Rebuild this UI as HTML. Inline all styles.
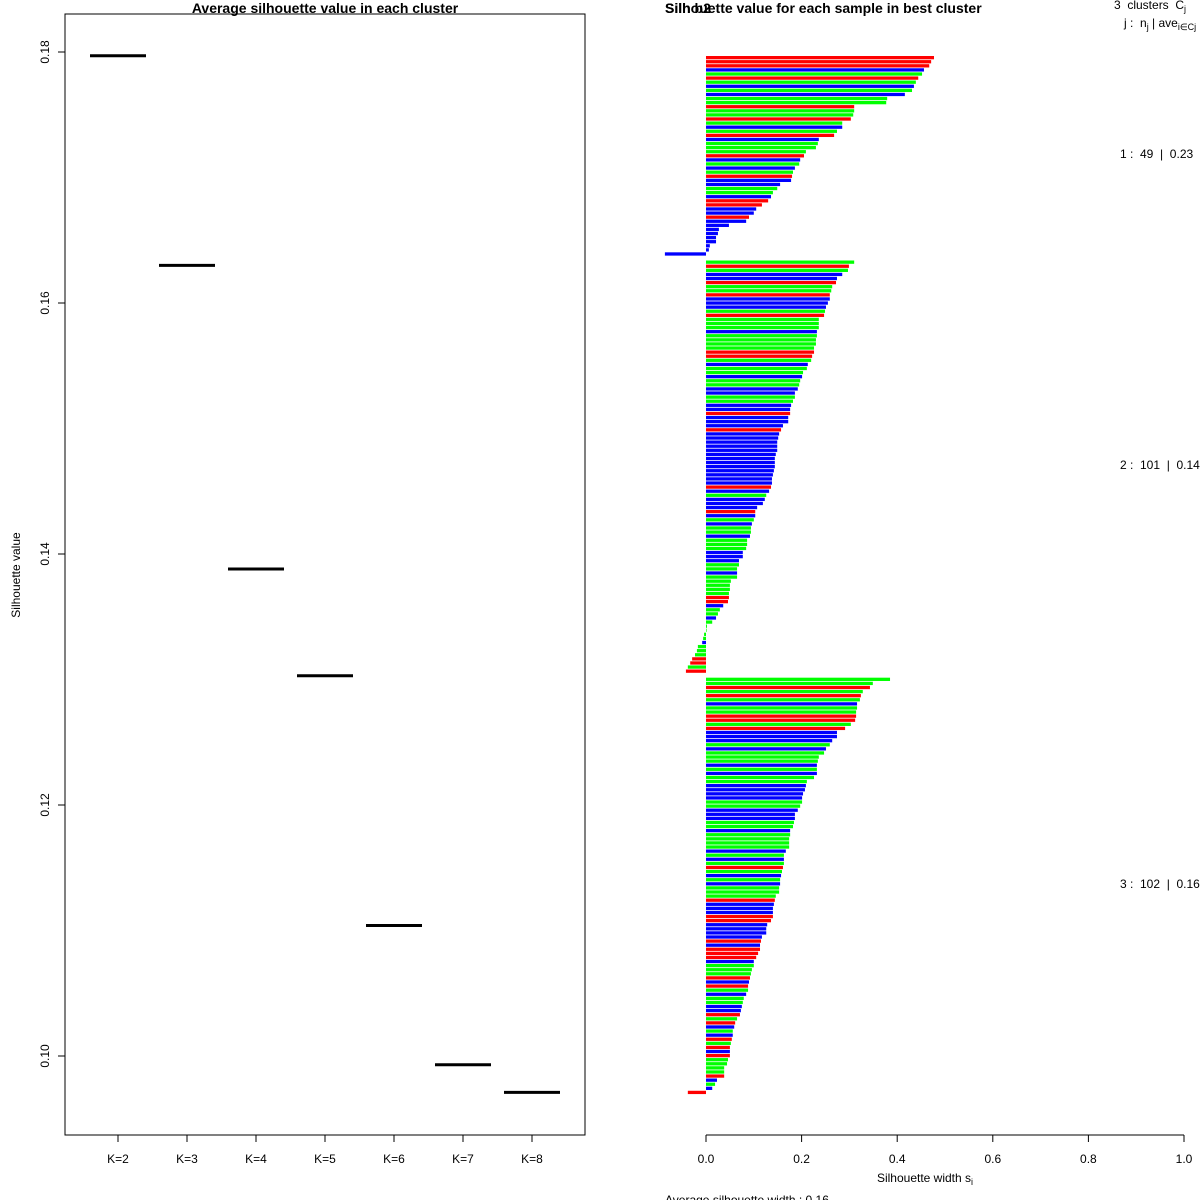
<!DOCTYPE html>
<html><head><meta charset="utf-8"><style>
html,body{margin:0;padding:0;background:#fff;}
svg{display:block;font-family:"Liberation Sans",Arial,sans-serif;}
text{white-space:pre;}
</style></head><body>
<svg id="chart" width="1200" height="1200" viewBox="0 0 1200 1200">
<rect x="0" y="0" width="1200" height="1200" fill="#fff"/>
<g id="left">
<text x="325" y="13" font-size="14" font-weight="bold" text-anchor="middle">Average silhouette value in each cluster</text>
<rect x="65" y="14" width="520" height="1121" fill="none" stroke="#000" stroke-width="1"/>
<text transform="translate(20,575) rotate(-90)" font-size="12" text-anchor="middle">Silhouette value</text>
<g id="lyticks"></g>
<g id="lxticks"></g>
<g id="lmarks"></g>
</g>
<g id="right">
<text x="665" y="13" font-size="14" font-weight="bold">Silh b2</text>
<text x="665" y="13" font-size="14" font-weight="bold">Silhouette value for each sample in best cluster</text>
<text x="1114" y="9" font-size="12">3  clusters  C<tspan font-size="9" dy="3">j</tspan></text>
<text x="1124" y="27" font-size="12">j :  n<tspan font-size="9" dy="3">j</tspan><tspan dy="-3"> | ave</tspan><tspan font-size="9" dy="3">i∈Cj</tspan><tspan dy="-3">  s</tspan></text>
<g id="rbars"></g>
<g id="rxaxis"></g>
<g id="rlabels"></g>
<text x="925" y="1182" font-size="12" text-anchor="middle">Silhouette width s<tspan font-size="9" dy="3">i</tspan></text>
<text x="665" y="1204" font-size="12">Average silhouette width : 0.16</text>
</g>
</svg>
<script>
const kLabels = ["K=2","K=3","K=4","K=5","K=6","K=7","K=8"];
const kValues = [0.1797,0.1630,0.1388,0.1303,0.1104,0.0993,0.0971];
const yTicks = [0.10,0.12,0.14,0.16,0.18];
const xTicksR = [0,0.2,0.4,0.6,0.8,1.0];
const clusterSizes = [49,101,102];
const clusterAvg = ["0.23","0.14","0.16"];
const c1Vals = [.477,.471,.467,.456,.452,.444,.439,.435,.431,.416,.379,.377,.310,.310,.308,.303,.285,.285,.274,.268,.236,.234,.230,.209,.205,.197,.195,.186,.182,.180,.178,.155,.149,.140,.136,.130,.117,.105,.100,.090,.084,.048,.027,.025,.021,.021,.008,.006,-.086];
const c1Cols = "rrrbgrgbgbggrggrgbgrbgggrbgbgrbbggbrrbbrbbbbbbbbb";
const c2Vals = [.310,.299,.297,.285,.274,.272,.264,.262,.259,.259,.255,.251,.249,.247,.236,.236,.236,.232,.232,.230,.230,.226,.226,.222,.220,.213,.211,.203,.201,.197,.195,.192,.186,.186,.182,.178,.176,.176,.172,.172,.161,.157,.153,.151,.149,.149,.149,.146,.144,.144,.144,.142,.140,.138,.138,.136,.132,.126,.123,.119,.107,.103,.103,.100,.096,.094,.094,.092,.086,.086,.084,.077,.077,.069,.069,.065,.065,.065,.052,.050,.050,.048,.048,.046,.036,.029,.025,.021,.013,.002,0,-.004,-.006,-.008,-.017,-.019,-.023,-.029,-.033,-.038,-.042];
const c2Cols = "grgbbrggrbbbgr"+"gggbggggrrg"+"bggbggbbggbbr"+"bbbrbbbbbbbb"+"bbbbbrbgbb"+"brbgbggbgg"+"gbbbggbgggggrr"+"bggbgg"+"g"+"ggbgggrrgr";
const c3Vals = [.385,.349,.343,.328,.324,.322,.316,.316,.314,.314,.312,.303,.291,.274,.274,.264,.259,.251,.247,.236,.234,.232,.232,.232,.226,.211,.209,.207,.203,.201,.201,.197,.192,.186,.186,.184,.182,.176,.176,.174,.174,.174,.167,.163,.163,.163,.161,.159,.157,.155,.155,.153,.153,.146,.144,.142,.140,.140,.140,.136,.128,.126,.126,.117,.115,.113,.113,.109,.105,.100,.100,.096,.094,.092,.090,.088,.088,.084,.079,.077,.075,.073,.071,.065,.061,.059,.056,.056,.054,.052,.050,.050,.050,.046,.044,.038,.038,.038,.023,.019,.013,-.038];
const c3Cols = "ggrgrgbggrrgr"+"bbbgbgggbgbg"+"gbbbbggbbbgg"+"bggggbgbgrgbgb"+"gggrbbbrrbbb"+"brbrrrbgggrb"+"rgbggbbrgrbg"+"brgrbrggggrbgbr";
</script>
<script>
const NS="http://www.w3.org/2000/svg";
function mk(parent,tag,attrs){const e=document.createElementNS(NS,tag);for(const k in attrs)e.setAttribute(k,attrs[k]);parent.appendChild(e);return e;}
const yL = v => 52 + (0.18 - v) * 12550;
const xL = i => 118 + i * 69;
const ly = document.getElementById('lyticks');
yTicks.forEach(t=>{
  const l=mk(ly,'line',{x1:58,x2:65,y1:yL(t),y2:yL(t),stroke:'#000'});
  
  
  const tx=mk(ly,'text',{transform:`translate(49,${yL(t)}) rotate(-90)`,'font-size':12,'text-anchor':'middle'});
  tx.textContent=t.toFixed(2);
  
  
});
const lx = document.getElementById('lxticks');
kLabels.forEach((k,i)=>{
  const l=mk(lx,'line',{x1:xL(i),x2:xL(i),y1:1135,y2:1142,stroke:'#000'});
  
  
  const tx=mk(lx,'text',{x:xL(i),y:1163,'font-size':12,'text-anchor':'middle'});
  tx.textContent=k;
  
  
});
const lm=document.getElementById('lmarks');
kValues.forEach((v,i)=>{
  const l=mk(lm,'line',{x1:xL(i)-28,x2:xL(i)+28,y1:yL(v),y2:yL(v),stroke:'#000','stroke-width':3});
  
  
});
const xR = v => 706 + v * 478;
const colMap={r:'#ff0000',g:'#00ff00',b:'#0000ff'};
const rb=document.getElementById('rbars');
const step=4.09;
let slot=0;
const clusters=[[c1Vals,c1Cols],[c2Vals,c2Cols],[c3Vals,c3Cols]];
const mids=[];
clusters.forEach(([vals,cols],ci)=>{
  const start=slot;
  vals.forEach((v,i)=>{
    const y=56+slot*step;
    const x0=Math.min(xR(0),xR(v)), w=Math.abs(xR(v)-xR(0));
    const r=mk(rb,'rect',{x:x0,y:y,width:Math.max(w,0.6),height:3.3,fill:colMap[cols[i]]||'#0000ff'});
    
    
    slot++;
  });
  mids.push(56+((start+slot-1)/2)*step);
  slot++;
});
const rx=document.getElementById('rxaxis');
const ax=mk(rx,'line',{x1:xR(0),x2:xR(1),y1:1135,y2:1135,stroke:'#000'});


xTicksR.forEach(t=>{
  const l=mk(rx,'line',{x1:xR(t),x2:xR(t),y1:1135,y2:1142,stroke:'#000'});
  
  
  const tx=mk(rx,'text',{x:xR(t),y:1163,'font-size':12,'text-anchor':'middle'});
  tx.textContent=t.toFixed(1);
  
  
});
const rl=document.getElementById('rlabels');
clusterSizes.forEach((n,i)=>{
  const tx=mk(rl,'text',{x:1120,y:mids[i]+4,'font-size':12});
  tx.textContent=`${i+1} :  ${n}  |  ${clusterAvg[i]}`;
  
  
});
</script>
</body></html>
